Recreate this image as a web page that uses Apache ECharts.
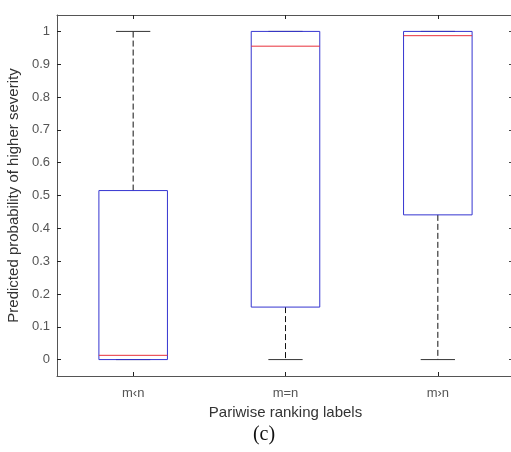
<!DOCTYPE html>
<html>
<head>
<meta charset="utf-8">
<script src="https://cdn.jsdelivr.net/npm/echarts@6/dist/echarts.min.js"></script>
<style>
  html, body { margin: 0; padding: 0; background: #fff; }
  #main { width: 511px; height: 452px; }
</style>
</head>
<body>
<div id="main"></div>
<script>
// box plot data
const categories = ["m\u2039n", "m=n", "m\u203an"];
const whiskerLow = [0, 0, 0];
const q1 = [0, 0.16, 0.441];
const median = [0.013, 0.955, 0.987];
const q3 = [0.515, 1, 1];
const whiskerHigh = [1, 1, 1];
const yTicks = [0, 0.1, 0.2, 0.3, 0.4, 0.5, 0.6, 0.7, 0.8, 0.9, 1];

const boxData = categories.map((c, i) => [i, whiskerLow[i], q1[i], median[i], q3[i], whiskerHigh[i]]);

const chart = echarts.init(document.getElementById("main"));

function renderBox(params, api) {
  const idx = api.value(0);
  const pLow = api.coord([idx, api.value(1)]);
  const pQ1 = api.coord([idx, api.value(2)]);
  const pMed = api.coord([idx, api.value(3)]);
  const pQ3 = api.coord([idx, api.value(4)]);
  const pHigh = api.coord([idx, api.value(5)]);
  const cx = pLow[0];
  const bw = api.size([1, 0])[0] * 0.45;
  const cap = bw / 2;
  const dashed = { stroke: "#111", lineWidth: 1, lineDash: [6, 3] };
  const solidCap = { stroke: "#333", lineWidth: 1 };
  const children = [];
  if (pHigh[1] < pQ3[1]) {
    children.push({ type: "line", shape: { x1: cx, y1: pQ3[1], x2: cx, y2: pHigh[1] }, style: dashed });
  }
  if (pLow[1] > pQ1[1]) {
    children.push({ type: "line", shape: { x1: cx, y1: pQ1[1], x2: cx, y2: pLow[1] }, style: dashed });
  }
  children.push({ type: "line", shape: { x1: cx - cap / 2, y1: pHigh[1], x2: cx + cap / 2, y2: pHigh[1] }, style: solidCap });
  children.push({ type: "line", shape: { x1: cx - cap / 2, y1: pLow[1], x2: cx + cap / 2, y2: pLow[1] }, style: solidCap });
  children.push({
    type: "rect",
    shape: { x: cx - bw / 2, y: pQ3[1], width: bw, height: pQ1[1] - pQ3[1] },
    style: { fill: "none", stroke: "#3535d0", lineWidth: 1 },
  });
  children.push({
    type: "line",
    shape: { x1: cx - bw / 2, y1: pMed[1], x2: cx + bw / 2, y2: pMed[1] },
    style: { stroke: "#e8303a", lineWidth: 1 },
  });
  return { type: "group", children };
}

const axisColor = "#555";
const font = "Liberation Sans, Arial, Helvetica, sans-serif";

const option = {
  backgroundColor: "#fff",
  animation: false,
  grid: { left: 57, right: -3, top: 15, height: 361, outerBoundsMode: "none" },
  xAxis: [
    {
      type: "category",
      data: categories,
      position: "bottom",
      boundaryGap: true,
      axisLine: { show: true, onZero: false, lineStyle: { color: axisColor, width: 1 } },
      axisTick: { show: true, inside: true, alignWithLabel: true, length: 4, lineStyle: { color: "#222" } },
      axisLabel: { color: "#555", fontSize: 13, fontFamily: font, margin: 11 },
      splitLine: { show: false },
      name: "Pariwise ranking labels",
      nameLocation: "middle",
      nameGap: 29,
      nameTextStyle: { color: "#333", fontSize: 15, fontFamily: font },
    },
    {
      type: "category",
      data: categories,
      position: "top",
      boundaryGap: true,
      axisLine: { show: true, onZero: false, lineStyle: { color: axisColor, width: 1 } },
      axisTick: { show: true, inside: true, alignWithLabel: true, length: 4, lineStyle: { color: "#222" } },
      axisLabel: { show: false },
      splitLine: { show: false },
    },
  ],
  yAxis: [
    {
      type: "value",
      min: -0.05,
      max: 1.05,
      position: "left",
      axisLine: { show: true, onZero: false, lineStyle: { color: axisColor, width: 1 } },
      axisTick: { show: true, inside: true, length: 4, customValues: yTicks, lineStyle: { color: "#222" } },
      axisLabel: { color: "#555", fontSize: 13, fontFamily: font, margin: 7, customValues: yTicks },
      splitLine: { show: false },
      name: "Predicted probability of higher severity",
      nameLocation: "middle",
      nameGap: 32,
      nameTextStyle: { color: "#333", fontSize: 15, fontFamily: font },
    },
    {
      type: "value",
      min: -0.05,
      max: 1.05,
      position: "right",
      axisLine: { show: true, onZero: false, lineStyle: { color: axisColor, width: 1 } },
      axisTick: { show: true, inside: true, length: 5, customValues: yTicks, lineStyle: { color: "#444" } },
      axisLabel: { show: false },
      splitLine: { show: false },
    },
  ],
  graphic: [
    {
      type: "text",
      x: 264,
      y: 435,
      style: {
        text: "(c)",
        font: "20px 'Liberation Serif', 'Times New Roman', serif",
        fill: "#111",
        textAlign: "center",
        textVerticalAlign: "middle",
      },
    },
  ],
  series: [
    {
      type: "custom",
      xAxisIndex: 0,
      yAxisIndex: 0,
      renderItem: renderBox,
      encode: { x: 0, y: [1, 2, 3, 4, 5] },
      data: boxData,
      silent: true,
    },
  ],
};

chart.setOption(option);
</script>
</body>
</html>
